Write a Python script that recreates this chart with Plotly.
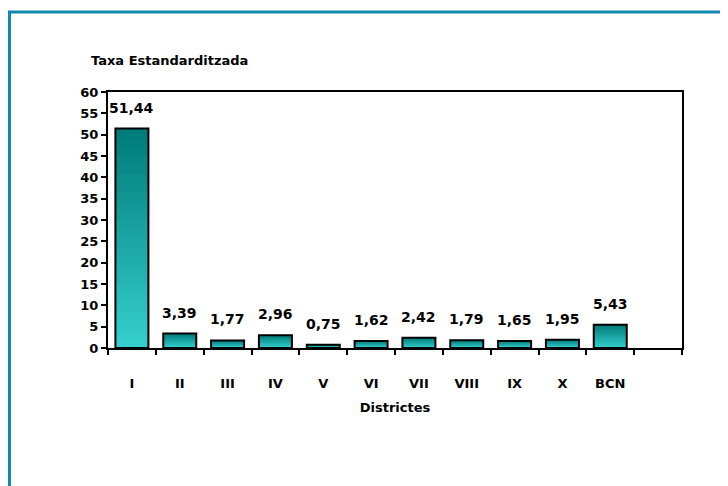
import numpy as np
import plotly.graph_objects as go
import plotly.colors as pc

districts = ["I", "II", "III", "IV", "V", "VI", "VII", "VIII", "IX", "X", "BCN"]
taxa = [51.44, 3.39, 1.77, 2.96, 0.75, 1.62, 2.42, 1.79, 1.65, 1.95, 5.43]
y_ticks = list(range(0, 61, 5))

FONT = "DejaVu Sans, Liberation Sans, Arial, sans-serif"
dark, light = "rgb(0,124,122)", "rgb(52,206,204)"
n_layers = 24
bar_w = 0.69
n_slots = len(districts) + 1  # one empty slot after BCN
xpos = np.arange(len(districts))

fig = go.Figure()

# fake a vertical gradient per bar: stacked overlays, dark on top -> light at bottom
vals = np.array(taxa)
for k in range(n_layers):
    frac = 1 - k / n_layers
    col = pc.find_intermediate_color(dark, light, k / (n_layers - 1), colortype="rgb")
    fig.add_trace(go.Bar(
        x=xpos, y=vals * frac, width=bar_w,
        marker=dict(color=col, line=dict(width=0)),
        hoverinfo="skip", showlegend=False,
    ))

# outline on top
fig.add_trace(go.Bar(
    x=xpos, y=taxa, width=bar_w,
    marker=dict(color="rgba(0,0,0,0)", line=dict(color="black", width=2)),
    customdata=districts, hovertemplate="%{customdata}: %{y}<extra></extra>",
    showlegend=False,
))

for xp, v in zip(xpos, taxa):
    fig.add_annotation(
        x=xp, y=v, text=f"<b>{v:.2f}</b>".replace(".", ","),
        showarrow=False, yanchor="bottom", yshift=11,
        font=dict(family=FONT, size=14, color="black"),
    )

fig.add_annotation(
    x=-0.033, y=1.125, xref="paper", yref="paper", xanchor="left", yanchor="middle",
    text="<b>Taxa Estandarditzada</b>", showarrow=False,
    font=dict(family=FONT, size=13, color="black"),
)

# teal frame running off the right/bottom of the picture
fig.add_shape(
    type="rect", xref="paper", yref="paper",
    x0=-0.1716, y0=-0.7, x1=1.3, y1=1.3125,
    line=dict(color="rgb(17,136,176)", width=3), fillcolor="rgba(0,0,0,0)",
)

# page body adds ~8px margin, so the figure is sized/offset to compensate
fig.update_layout(
    barmode="overlay",
    width=720, height=478,
    margin=dict(l=100, r=46, t=84, b=138),
    plot_bgcolor="white", paper_bgcolor="white",
    font=dict(family=FONT, size=13, color="black"),
)
fig.update_xaxes(
    range=[-0.5, n_slots - 0.5],
    tickvals=xpos, ticktext=districts,
    showline=True, linecolor="black", linewidth=2, mirror=True,
    ticks="", ticklabelstandoff=22,
    minor=dict(
        tickvals=[i - 0.5 for i in range(n_slots + 1)],
        ticks="outside", ticklen=5, tickwidth=2, tickcolor="black", showgrid=False,
    ),
    tickfont=dict(family=FONT, size=13, color="black", weight="bold"),
    title=dict(text="<b>Districtes</b>", standoff=13, font=dict(family=FONT, size=13)),
    showgrid=False, zeroline=False,
)
fig.update_yaxes(
    range=[0, 60], tickvals=y_ticks,
    showline=True, linecolor="black", linewidth=2, mirror=True,
    ticks="outside", ticklen=5, tickwidth=2, tickcolor="black",
    tickfont=dict(family=FONT, size=13, color="black", weight="bold"),
    showgrid=False, zeroline=False,
)

fig.write_html("out.html")
